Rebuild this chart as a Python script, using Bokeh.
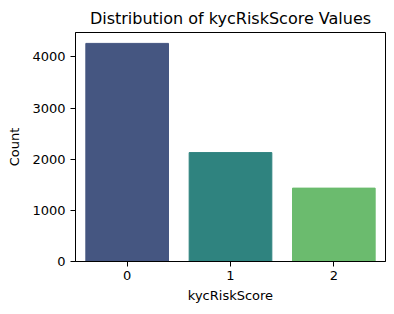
from bokeh.plotting import figure
from bokeh.models import FixedTicker, Range1d, ColumnDataSource
from bokeh.embed import file_html
from bokeh.resources import INLINE

categories = [0, 1, 2]
tick_labels = ["0", "1", "2"]
counts = [4265, 2130, 1435]
colors = ["#455681", "#2F837F", "#6BBB6E"]

src = ColumnDataSource(dict(x=categories, top=counts, color=colors))

p = figure(width=394, height=314, output_backend="svg", toolbar_location=None,
           x_range=Range1d(-0.5, 2.5), y_range=Range1d(0, max(counts) * 1.05),
           min_border_left=75, min_border_right=9, min_border_top=32, min_border_bottom=53)
p.vbar(x="x", top="top", width=0.8, color="color", source=src)

p.title.text = "Distribution of kycRiskScore Values"
p.title.align = "center"
p.title.text_font = "DejaVu Sans"
p.title.text_font_size = "16px"
p.title.text_font_style = "normal"
p.title.text_color = "#000000"

p.xgrid.visible = False
p.ygrid.visible = False
p.outline_line_color = "black"
p.outline_line_width = 1
p.outline_line_alpha = 1

p.xaxis.ticker = FixedTicker(ticks=categories)
p.xaxis.major_label_overrides = {c: l for c, l in zip(categories, tick_labels)}
p.yaxis.ticker = FixedTicker(ticks=[0, 1000, 2000, 3000, 4000])
p.xaxis.axis_label = "kycRiskScore"
p.yaxis.axis_label = "Count"
for ax in (p.xaxis, p.yaxis):
    ax.axis_label_text_font = "DejaVu Sans"
    ax.axis_label_text_font_size = "13px"
    ax.axis_label_text_font_style = "normal"
    ax.axis_label_text_color = "black"
    ax.major_label_text_font = "DejaVu Sans"
    ax.major_label_text_font_size = "13px"
    ax.major_label_text_color = "black"
    ax.minor_tick_line_color = None
    ax.major_tick_in = 0
    ax.major_tick_out = 5
    ax.major_tick_line_color = "black"
    ax.axis_line_color = "black"
    ax.major_label_standoff = 4
    ax.axis_label_standoff = 5
p.yaxis.major_label_standoff = 5
p.yaxis.axis_label_standoff = 7
p.yaxis.major_label_orientation = "horizontal"

open("out.html", "w").write(file_html(p, INLINE))
